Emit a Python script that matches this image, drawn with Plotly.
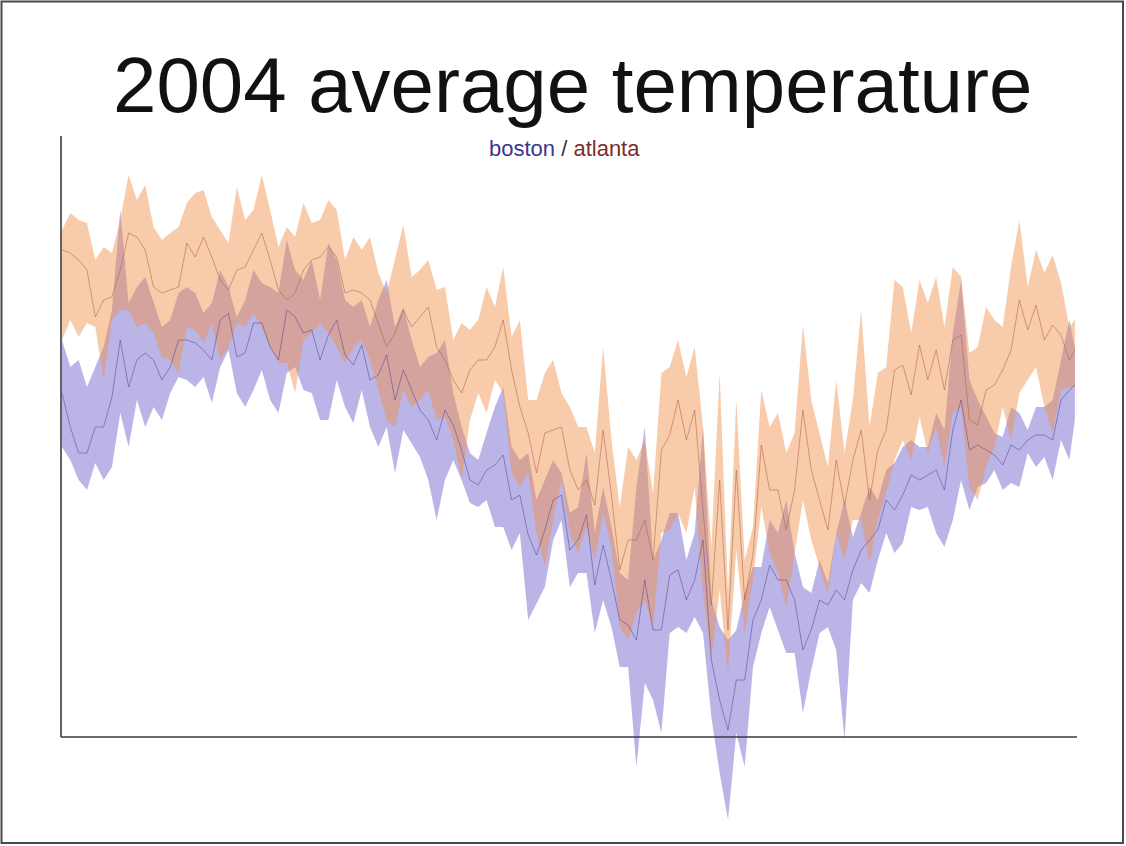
import plotly.graph_objects as go

# Day of year (2004) for each sample, every third day
days = list(range(1, 365, 3)) + [366]

atlanta_high = [
    67, 68.7, 68, 67.7, 64, 65.3, 64.7, 68, 72.5, 70, 71.5, 67.3, 66, 66.7, 67.3,
    69.7, 70.7, 71, 68.3, 67, 65.7, 71.3, 68, 69, 72.5, 69, 65.3, 67.3, 66.3, 69.7,
    67.7, 68, 70, 69, 64, 66.3, 65, 66.3, 62.7, 60.7, 64, 67.5, 62.3, 63, 64,
    61, 61.3, 56, 57.7, 57, 58, 61.3, 59.3, 63.3, 56.3, 58, 50, 50, 52.7, 54, 50.7,
    49.3, 47.3, 47.3, 44.7, 55.3, 46, 39.3, 45.3, 44, 46, 40.7, 52.7, 53.3, 56, 52.3,
    55.3, 47.3, 35.3, 52.7, 30.7, 50, 34, 37.3, 51, 47.3, 48.7, 44.7, 46.7, 57.5, 50,
    46.7, 43.3, 52, 44.7, 50, 59, 47.3, 52.7, 53.3, 62, 61.3, 56.7, 62, 59.7, 62.3, 57.3,
    63.3, 62.3, 54.7, 55.3, 59.3, 58, 57.3, 63.3, 68, 61.3, 65, 62.7, 64.5, 61.7, 57.3, 58,
]
atlanta_low = [
    56, 58, 56.3, 57.7, 57.3, 52, 58, 59, 59, 57.3, 57.7, 56.7, 54.3, 54, 52.7,
    57.3, 57, 55.7, 57.7, 54, 55.3, 57.7, 57.3, 58.7, 57.3, 55.3, 53.7, 53.7, 50.7, 56,
    56.7, 57.7, 56.7, 55.3, 53.7, 55.3, 56, 54, 51, 48, 47.3, 51, 49.3, 50, 51,
    48, 48.3, 46, 42, 48, 50.7, 48.7, 52, 50.7, 42.7, 41.3, 42.7, 36.7, 33.3, 38, 42,
    36.7, 34.7, 37.3, 34, 38.7, 35.3, 27.3, 26, 28.7, 30, 27.3, 36.7, 37, 38.7, 36.7,
    41.3, 30.7, 24, 31, 22.7, 35, 26.7, 32, 39.3, 34.7, 32.7, 29.3, 34.7, 40, 36,
    33.3, 30.7, 36.7, 34, 38, 38, 33.7, 38, 40.7, 44, 46, 44, 48.3, 44.7, 47.3, 43.3,
    48.7, 49.3, 41.3, 40, 43.3, 45.3, 49.3, 46, 50.7, 52, 53.3, 49.3, 46.7, 51, 51.3, 51.3,
]
atlanta_mean = [
    65, 64.7, 64, 63, 58.3, 60, 60.3, 63, 66.7, 66.3, 65, 61.3, 60.7, 61, 61.3,
    65.7, 64.3, 66.3, 64.3, 62, 61, 63, 63.3, 65, 66.7, 64, 61, 60, 60.7, 63,
    64, 64.3, 65.3, 64.3, 60.7, 61, 60.7, 60, 57.7, 55.3, 56.7, 59, 57.3, 58.3, 59.3,
    55.3, 54, 52, 50.7, 53, 54, 54, 55.3, 58, 53, 49.3, 46.7, 42.7, 46.7, 47, 47.3,
    43, 41, 42, 39.5, 47, 40.5, 33, 36, 36, 38, 34, 45, 46.5, 50, 46,
    49, 39, 29.5, 42, 27, 43, 30, 34.5, 45.5, 41, 41, 37, 41, 49, 43,
    40, 37, 44, 39.5, 44, 47, 40, 45, 47, 53, 53.5, 50.5, 55.5, 52, 55, 51,
    56, 56.5, 48, 47.5, 51, 51.5, 53, 55, 60, 57, 59.5, 56, 57.5, 56.5, 54, 55,
]

boston_high = [
    56, 53.3, 54, 51.3, 53.3, 55.3, 59, 69, 59.7, 61.3, 62.3, 59.7, 57.3, 58, 60.7,
    61.3, 60.7, 58.7, 59.7, 63, 61.3, 58.3, 60, 63, 61.7, 61.3, 60.7, 66, 63, 62,
    64, 60, 65.7, 64, 60, 59.3, 60, 57.3, 60, 62, 57.3, 59.3, 56, 53.3, 54.3,
    54.7, 56, 50.7, 47.3, 44.7, 44, 46.7, 49.3, 51.3, 45.3, 44, 44.7, 40, 42, 44, 42.7,
    38.7, 39.3, 44.7, 36.7, 41.3, 37.3, 32.7, 32, 41.3, 47.3, 34, 36, 38.7, 38.7, 34,
    36.7, 47.3, 30, 27.3, 26, 27, 30.7, 33.3, 33.3, 38, 36.7, 40, 34.7, 31.3, 30.7,
    34, 31.7, 36.7, 40, 36.3, 38.7, 41.3, 40, 43, 43.7, 45.3, 46, 45.3, 45.3, 48.7, 47,
    56.7, 62, 52, 50, 48.3, 46.7, 46.3, 49.3, 48.7, 47, 49.3, 49.3, 50, 54, 58, 55.3,
]
boston_low = [
    45.3, 44, 42, 41, 43.7, 42, 43.3, 48.7, 45.3, 50, 47.3, 49.3, 48, 50.7, 52.3,
    52, 51.3, 52.3, 49.7, 53.3, 55, 50.7, 49.3, 51, 53, 50, 48.7, 52.7, 53.3, 51,
    50.7, 48, 48, 52, 49.3, 47.7, 51, 47.3, 45.3, 47.3, 42.7, 47, 45.7, 44.3, 42,
    38, 42, 44, 42, 39.7, 39.3, 40, 37.3, 37.3, 35, 36.7, 28, 29.7, 31.3, 36, 38,
    31.3, 32.7, 32.7, 26.7, 30, 27.3, 23.3, 23.3, 13.3, 21.7, 20, 16.7, 26.7, 27.3, 26.7,
    28.3, 26.7, 18.3, 12.7, 8, 16.7, 13.3, 23.3, 26.7, 29.3, 27, 24.7, 24.7, 18.7, 23,
    26.7, 27.3, 25, 16, 30, 31.7, 30.7, 34, 36.7, 34.7, 35.7, 39.3, 39, 39.3, 36.7, 35.3,
    38, 42, 39, 41.3, 41.7, 43, 41, 41.7, 41.3, 44.7, 43.3, 44.3, 42, 46, 44, 48,
]
boston_mean = [
    50.7, 47.3, 44.7, 44.7, 47.3, 47.3, 50.3, 56, 51.3, 54, 54.7, 54, 52, 53.3, 56,
    56, 55.7, 55, 54, 58, 58.7, 54.3, 54.7, 57.7, 57.7, 55.3, 54, 59, 58.3, 56.7,
    57, 54, 56.5, 58, 54.5, 53.5, 55.5, 52, 52.5, 54.5, 50, 53, 51, 49, 48,
    46, 49, 47.5, 45, 42, 41.5, 43, 43.5, 44.5, 40, 40.5, 36.5, 34.5, 37, 40, 40.5,
    35, 36, 38.5, 31.5, 35.5, 32, 28, 27.5, 26, 32, 27, 27, 32.5, 33, 30,
    32, 36, 24, 20, 17, 22, 22, 28, 30, 33.5, 32, 32, 30, 25, 27,
    30, 29.5, 31, 30, 33, 35, 36, 37, 40, 39, 40.5, 42.5, 42, 42.5, 43, 41,
    47, 50, 45, 45.5, 45, 44.5, 43.5, 45.5, 45, 46, 46.5, 46.5, 46, 50, 51, 51.5,
]

W, H = 1126, 846
PX_PER_DAY = 2.775          # horizontal scale
DAY1_PX = 62                # page x of 1 January
Y_RANGE = [5.4, 90.0]       # value at page bottom / page top
AXIS_BASE = 16.3            # horizontal axis line
AXIS_TOP = 76.4             # top end of the vertical axis line


def day_at(px):
    return 1 + (px - DAY1_PX) / PX_PER_DAY


ORANGE_FILL = "rgba(240,145,75,0.47)"
PURPLE_FILL = "rgba(105,88,200,0.45)"
ORANGE_LINE = "rgba(165,90,65,0.5)"
PURPLE_LINE = "rgba(80,60,150,0.5)"

fig = go.Figure()


def add_band(lo, hi, fill):
    fig.add_trace(go.Scatter(
        x=days + days[::-1], y=hi + lo[::-1],
        mode="lines", fill="toself", fillcolor=fill,
        line=dict(width=0), hoverinfo="skip", showlegend=False,
    ))


# boston underneath, atlanta laid over it
add_band(boston_low, boston_high, PURPLE_FILL)
add_band(atlanta_low, atlanta_high, ORANGE_FILL)

fig.add_trace(go.Scatter(x=days, y=boston_mean, mode="lines",
                         line=dict(color=PURPLE_LINE, width=1), showlegend=False))
fig.add_trace(go.Scatter(x=days, y=atlanta_mean, mode="lines",
                         line=dict(color=ORANGE_LINE, width=1), showlegend=False))

axis_color = "#3a3a40"
fig.add_shape(type="line", xref="x", yref="y", layer="above",
              x0=day_at(61), x1=day_at(61), y0=AXIS_BASE, y1=AXIS_TOP,
              line=dict(color=axis_color, width=1.6))
fig.add_shape(type="line", xref="x", yref="y", layer="above",
              x0=day_at(61), x1=day_at(1077), y0=AXIS_BASE, y1=AXIS_BASE,
              line=dict(color=axis_color, width=1.6))

# thin frame round the page
fig.add_shape(type="rect", xref="paper", yref="paper", layer="above",
              x0=1.5 / W, x1=1123 / W, y0=(H - 843) / H, y1=(H - 1.5) / H,
              line=dict(color="#4a4a4a", width=2))

fig.add_annotation(
    text="2004 average temperature", xref="paper", yref="paper",
    x=572 / W, y=1 - 85 / H, xanchor="center", yanchor="middle", showarrow=False,
    font=dict(family="Liberation Sans, Arial, sans-serif", size=78, color="#111111"),
)
fig.add_annotation(
    text='<span style="color:#3d3592">boston</span>'
         '<span style="color:#333333"> / </span>'
         '<span style="color:#7c2b28">atlanta</span>',
    xref="paper", yref="paper", x=564 / W, y=1 - 149 / H,
    xanchor="center", yanchor="middle", showarrow=False,
    font=dict(family="Liberation Sans, Arial, sans-serif", size=22),
)

fig.update_layout(
    width=W, height=H,
    margin=dict(l=0, r=0, t=0, b=0),
    paper_bgcolor="white", plot_bgcolor="white",
    xaxis=dict(range=[day_at(0), day_at(W)], visible=False, domain=[0, 1], fixedrange=True),
    yaxis=dict(range=Y_RANGE, visible=False, domain=[0, 1], fixedrange=True),
    showlegend=False,
)

fig.write_html("out.html")
